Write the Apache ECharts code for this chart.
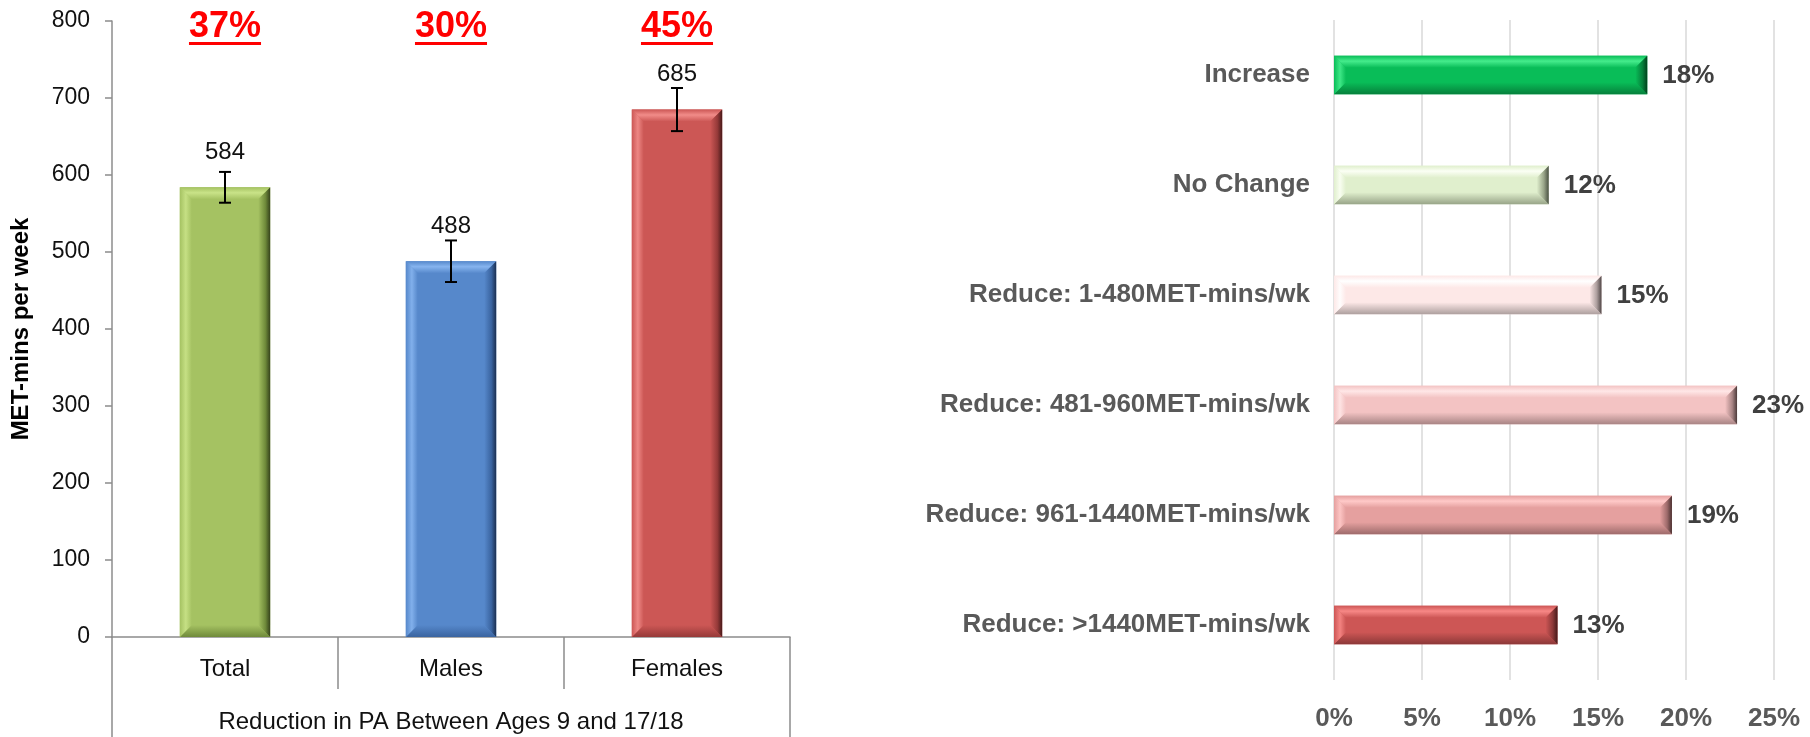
<!DOCTYPE html>
<html>
<head>
<meta charset="utf-8">
<script src="https://cdn.jsdelivr.net/npm/echarts@6/dist/echarts.min.js"></script>
<style>
  html, body { margin: 0; padding: 0; background: #fff; }
  #chart { width: 1810px; height: 737px; }
</style>
</head>
<body>
<div id="chart"></div>
<script>
// left panel: MET-mins per week reduction
const groups = ['Total', 'Males', 'Females'];
const metMins = [584, 488, 685];
const metErr = [20, 27, 28];
const dropPct = ['37%', '30%', '45%'];
const groupTitle = ['Reduction in PA Between Ages 9 and 17/18'];

// right panel: change categories
const changeCats = [
  'Increase',
  'No Change',
  'Reduce: 1-480MET-mins/wk',
  'Reduce: 481-960MET-mins/wk',
  'Reduce: 961-1440MET-mins/wk',
  'Reduce: >1440MET-mins/wk'
];
const changePct = [17.8, 12.2, 15.2, 22.9, 19.2, 12.7];

const FONT = '"Liberation Sans", Arial, sans-serif';

const groupColors = [
  { base: '#a5c262', light: '#c9e388', dark: '#6f8a3a', shadow: '#35421b' },
  { base: '#5688cb', light: '#86b4ef', dark: '#3a64a0', shadow: '#1b2f50' },
  { base: '#cc5755', light: '#f18c89', dark: '#963a39', shadow: '#481a1a' }
];
const changeColors = [
  { base: '#09bd58', light: '#45ec8c', dark: '#06803b', shadow: '#02401c' },
  { base: '#e0efcd', light: '#fbfff4', dark: '#98a488', shadow: '#4a5143' },
  { base: '#fde8e7', light: '#ffffff', dark: '#ad9f9e', shadow: '#4f4646' },
  { base: '#f3c3c3', light: '#ffe7e7', dark: '#a88484', shadow: '#4c3a3a' },
  { base: '#e5a09f', light: '#ffc9c8', dark: '#9e6b6b', shadow: '#4a3030' },
  { base: '#cd5655', light: '#f78886', dark: '#8c3838', shadow: '#451a1a' }
];

const G = echarts.graphic.LinearGradient;

// Excel-like bevelled rectangle
function bevel(x0, y0, x1, y1, c, b) {
  b = Math.max(0, Math.min(b, (x1 - x0) / 2, (y1 - y0) / 2));
  return [
    { type: 'rect', shape: { x: x0, y: y0, width: x1 - x0, height: y1 - y0 }, style: { fill: c.base } },
    {
      type: 'polygon',
      shape: { points: [[x0, y0], [x1, y0], [x1 - b, y0 + b], [x0 + b, y0 + b]] },
      style: { fill: new G(0, 0, 0, 1, [{ offset: 0, color: c.base }, { offset: 0.45, color: c.light }, { offset: 1, color: c.base }]) }
    },
    {
      type: 'polygon',
      shape: { points: [[x0, y1], [x1, y1], [x1 - b, y1 - b], [x0 + b, y1 - b]] },
      style: { fill: new G(0, 0, 0, 1, [{ offset: 0, color: c.base }, { offset: 1, color: c.dark }]) }
    },
    {
      type: 'polygon',
      shape: { points: [[x0, y0], [x0 + b, y0 + b], [x0 + b, y1 - b], [x0, y1]] },
      style: { fill: new G(0, 0, 1, 0, [{ offset: 0, color: c.base }, { offset: 0.5, color: c.light }, { offset: 1, color: c.base }]), opacity: 0.9 }
    },
    {
      type: 'polygon',
      shape: { points: [[x1, y0], [x1 - b, y0 + b], [x1 - b, y1 - b], [x1, y1]] },
      style: { fill: new G(0, 0, 1, 0, [{ offset: 0, color: c.base }, { offset: 0.6, color: c.dark }, { offset: 1, color: c.shadow }]) }
    }
  ];
}

const measureCtx = document.createElement('canvas').getContext('2d');
function textWidth(t, font) {
  measureCtx.font = font;
  return measureCtx.measureText(t).width;
}

const chart = echarts.init(document.getElementById('chart'), null, { renderer: 'canvas' });

const option = {
  animation: false,
  textStyle: { fontFamily: FONT },
  grid: [
    { left: 112, right: 1020, top: 21, bottom: 100 },
    { left: 1334, right: 36, top: 20, bottom: 57 }
  ],
  xAxis: [
    {
      gridIndex: 0,
      type: 'category',
      data: groups,
      position: 'bottom',
      axisLine: { lineStyle: { color: '#8c8c8c', width: 1.5 } },
      axisTick: { show: true, interval: 0, length: 52, lineStyle: { color: '#8c8c8c', width: 1.5 } },
      axisLabel: { margin: 20, fontSize: 24, color: '#111', fontFamily: FONT }
    },
    {
      gridIndex: 0,
      type: 'category',
      data: groupTitle,
      position: 'bottom',
      axisLine: { show: false },
      axisTick: { show: true, length: 100, lineStyle: { color: '#8c8c8c', width: 1.5 } },
      axisLabel: { margin: 73, fontSize: 24, color: '#111', fontFamily: FONT }
    },
    {
      gridIndex: 1,
      type: 'value',
      min: 0,
      max: 25,
      interval: 5,
      axisLine: { show: false },
      axisTick: { show: false },
      splitLine: { lineStyle: { color: '#d9d9d9', width: 1.5 } },
      axisLabel: {
        margin: 26,
        fontSize: 26,
        fontWeight: 'bold',
        color: '#595959',
        fontFamily: FONT,
        formatter: '{value}%'
      }
    }
  ],
  yAxis: [
    {
      gridIndex: 0,
      type: 'value',
      min: 0,
      max: 800,
      interval: 100,
      name: 'MET-mins per week',
      nameLocation: 'middle',
      nameGap: 79,
      nameTextStyle: { fontSize: 24, fontWeight: 'bold', color: '#000', fontFamily: FONT },
      axisLine: { show: true, lineStyle: { color: '#8c8c8c', width: 1.5 } },
      axisTick: { show: true, length: 7, lineStyle: { color: '#8c8c8c', width: 1.5 } },
      splitLine: { show: false },
      axisLabel: { margin: 22, fontSize: 23, color: '#111', fontFamily: FONT }
    },
    {
      gridIndex: 1,
      type: 'category',
      data: changeCats,
      inverse: true,
      axisLine: { show: false },
      axisTick: { show: false },
      axisLabel: { margin: 24, fontSize: 26, fontWeight: 'bold', color: '#595959', fontFamily: FONT }
    }
  ],
  series: [
    {
      name: 'MET-mins',
      type: 'custom',
      xAxisIndex: 0,
      yAxisIndex: 0,
      data: metMins.map((v, i) => [i, v]),
      renderItem: function (params, api) {
        const i = api.value(0);
        const v = api.value(1);
        const top = api.coord([i, v]);
        const bot = api.coord([i, 0]);
        const w = api.size([1, 0])[0] * 0.4;
        const kids = bevel(top[0] - w / 2, top[1], top[0] + w / 2, bot[1], groupColors[params.dataIndex], 12);
        kids.push({
          type: 'text',
          style: {
            text: String(v),
            x: top[0],
            y: top[1] - 35,
            align: 'center',
            verticalAlign: 'middle',
            font: '24px ' + FONT,
            fill: '#111'
          }
        });
        return { type: 'group', children: kids };
      }
    },
    {
      name: 'error',
      type: 'custom',
      xAxisIndex: 0,
      yAxisIndex: 0,
      data: metMins.map((v, i) => [i, v, metErr[i]]),
      renderItem: function (params, api) {
        const i = api.value(0);
        const v = api.value(1);
        const e = api.value(2);
        const hi = api.coord([i, v + e]);
        const lo = api.coord([i, v - e]);
        const cap = 6;
        const st = { stroke: '#000', lineWidth: 2 };
        return {
          type: 'group',
          children: [
            { type: 'line', shape: { x1: hi[0], y1: hi[1], x2: lo[0], y2: lo[1] }, style: st },
            { type: 'line', shape: { x1: hi[0] - cap, y1: hi[1], x2: hi[0] + cap, y2: hi[1] }, style: st },
            { type: 'line', shape: { x1: lo[0] - cap, y1: lo[1], x2: lo[0] + cap, y2: lo[1] }, style: st }
          ]
        };
      }
    },
    {
      name: 'drop',
      type: 'custom',
      xAxisIndex: 0,
      yAxisIndex: 0,
      data: dropPct.map((t, i) => [i, 800]),
      renderItem: function (params, api) {
        const p = api.coord([api.value(0), api.value(1)]);
        const t = dropPct[params.dataIndex];
        const font = 'bold 36px ' + FONT;
        const tw = textWidth(t, font);
        return {
          type: 'group',
          children: [
            {
              type: 'text',
              style: { text: t, x: p[0], y: p[1] + 6, align: 'center', verticalAlign: 'middle', font: font, fill: '#ff0000' }
            },
            { type: 'rect', shape: { x: p[0] - tw / 2, y: p[1] + 21, width: tw, height: 3 }, style: { fill: '#ff0000' } }
          ]
        };
      }
    },
    {
      name: 'change',
      type: 'custom',
      xAxisIndex: 2,
      yAxisIndex: 1,
      data: changePct.map((v, i) => [v, i]),
      renderItem: function (params, api) {
        const v = api.value(0);
        const i = api.value(1);
        const end = api.coord([v, i]);
        const start = api.coord([0, i]);
        const h = api.size([0, 1])[1] * 0.35;
        const kids = bevel(start[0], end[1] - h / 2, end[0], end[1] + h / 2, changeColors[params.dataIndex], 12);
        kids.push({
          type: 'text',
          style: {
            text: Math.round(v) + '%',
            x: end[0] + 15,
            y: end[1] + 1,
            align: 'left',
            verticalAlign: 'middle',
            font: 'bold 26px ' + FONT,
            fill: '#404040'
          }
        });
        return { type: 'group', children: kids };
      }
    }
  ]
};

chart.setOption(option);

window.addEventListener('resize', () => {
  chart.resize();
});
</script>
</body>
</html>
